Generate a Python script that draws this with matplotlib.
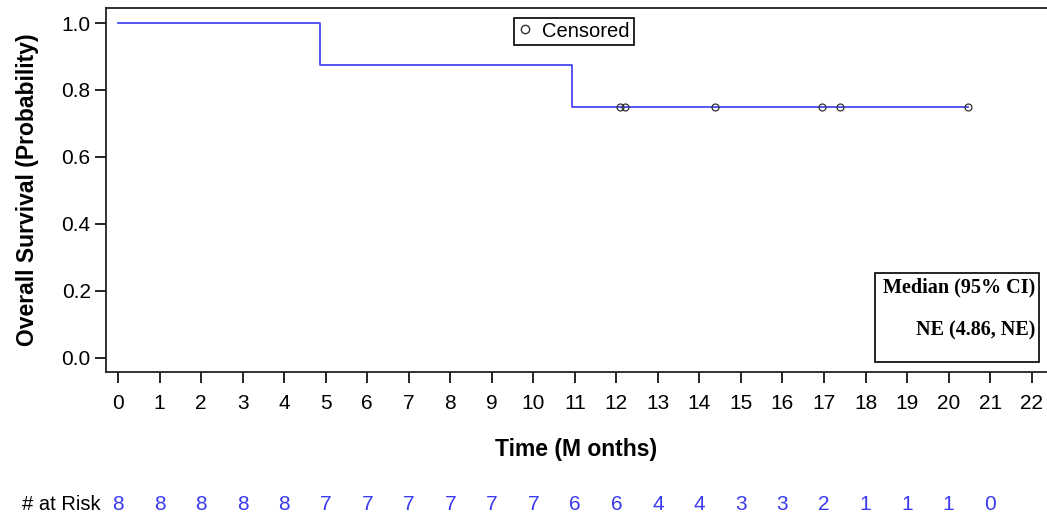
import matplotlib
matplotlib.use("Agg")
import matplotlib.pyplot as plt
from matplotlib.lines import Line2D
from matplotlib.patches import Rectangle
from matplotlib.transforms import blended_transform_factory

plt.rcParams['font.family'] = ['Liberation Sans', 'DejaVu Sans']

# --- Data ---
step_times = [0, 4.86, 10.93, 20.47]
step_surv = [1.0, 0.875, 0.75, 0.75]
censor_times = [12.09, 12.21, 14.38, 16.95, 17.38, 20.47]
censor_surv = [0.75, 0.75, 0.75, 0.75, 0.75, 0.75]
x_ticks = list(range(0, 23))
y_ticks = [0.0, 0.2, 0.4, 0.6, 0.8, 1.0]
risk_times = list(range(0, 22))
at_risk = [8, 8, 8, 8, 8, 7, 7, 7, 7, 7, 7, 6, 6, 4, 4, 3, 3, 2, 1, 1, 1, 0]

W, H = 1047, 515
BLUE = '#3a3af0'

fig = plt.figure(figsize=(W / 100, H / 100), dpi=100)
ax = fig.add_axes([106 / W, (H - 372) / H, (W - 106) / W, (372 - 8) / H])

ax.step(step_times, step_surv, where='post', color=BLUE, linewidth=1.2)
ax.plot(censor_times, censor_surv, linestyle='none', marker='o', markersize=5,
        markerfacecolor='none', markeredgecolor='#333333', markeredgewidth=0.9)

ax.set_xlim(-0.29, 22.37)
ax.set_ylim(-0.043, 1.045)
ax.set_xticks(x_ticks)
ax.set_yticks(y_ticks)
ax.set_yticklabels([f'{v:.1f}' for v in y_ticks])
ax.tick_params(axis='x', direction='out', length=8, width=1.2, pad=8, labelsize=15)
ax.tick_params(axis='y', direction='out', length=8, width=1.2, pad=3, labelsize=15)
ax.spines['right'].set_visible(False)
for s in ['left', 'bottom', 'top']:
    ax.spines[s].set_linewidth(1.3)
    ax.spines[s].set_color('#222222')

ax.set_xlabel('Time (M onths)', fontsize=16.5, fontweight='bold', labelpad=18)
ax.set_ylabel('Overall Survival (Probability)', fontsize=16.5, fontweight='bold', labelpad=16)

# Censored legend
handle = Line2D([], [], linestyle='none', marker='o', markersize=6,
                markerfacecolor='none', markeredgecolor='#333333')
leg = ax.legend([handle], ['Censored'], loc='upper left',
                bbox_to_anchor=(514 / W, 1 - 17.5 / H), bbox_transform=fig.transFigure,
                fancybox=False, edgecolor='black', framealpha=1, fontsize=14.5,
                handlelength=0.7, handletextpad=0.5, borderpad=0.2,
                borderaxespad=0)
leg.get_frame().set_linewidth(1.2)

# Median box
fig.patches.append(Rectangle((875 / W, 1 - 362 / H), (1039 - 875) / W, (362 - 273) / H,
                             transform=fig.transFigure, fill=False,
                             edgecolor='black', linewidth=1.2))
fig.text(1035 / W, 1 - 287 / H, 'Median (95% CI)', ha='right', va='center',
         fontsize=14.5, fontweight='bold', family='Liberation Serif')
fig.text(1035 / W, 1 - 330 / H, 'NE (4.86, NE)', ha='right', va='center',
         fontsize=14.5, fontweight='bold', family='Liberation Serif')

# Number at risk row
trans = blended_transform_factory(ax.transData, fig.transFigure)
fig.text(101 / W, 1 - 504 / H, '# at Risk', ha='right', va='center', fontsize=14.5)
for t, n in zip(risk_times, at_risk):
    ax.text(t, 1 - 504 / H, str(n), transform=trans, ha='center', va='center',
            fontsize=15, color=BLUE, clip_on=False)

fig.savefig('out.png', dpi=100)
